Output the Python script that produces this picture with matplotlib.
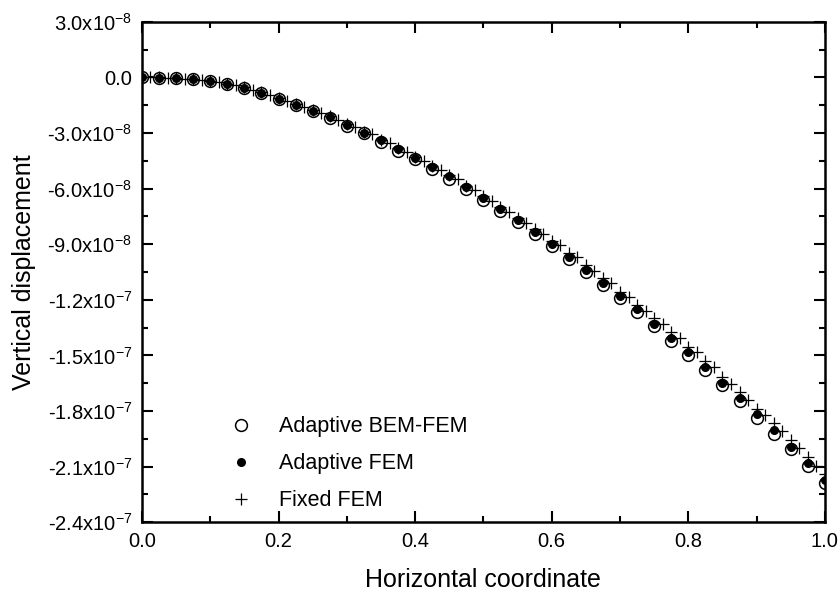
import matplotlib.pyplot as plt
import numpy as np
from matplotlib.ticker import FixedLocator, MultipleLocator

plt.rcParams['font.family'] = ['Liberation Sans', 'DejaVu Sans']
plt.rcParams['mathtext.fontset'] = 'custom'
plt.rcParams['mathtext.rm'] = 'Liberation Sans'
plt.rcParams['axes.unicode_minus'] = False

# adaptive points, step 0.025 (values in 1e-8)
x_adapt = [0.0, 0.025, 0.05, 0.075, 0.1, 0.125, 0.15, 0.175, 0.2, 0.225,
           0.25, 0.275, 0.3, 0.325, 0.35, 0.375, 0.4, 0.425, 0.45, 0.475,
           0.5, 0.525, 0.55, 0.575, 0.6, 0.625, 0.65, 0.675, 0.7, 0.725,
           0.75, 0.775, 0.8, 0.825, 0.85, 0.875, 0.9, 0.925, 0.95, 0.975, 1.0]

bem_fem = [0.0, -0.02, -0.05, -0.10, -0.20, -0.36, -0.58, -0.86, -1.16, -1.50,
           -1.82, -2.18, -2.60, -3.02, -3.46, -3.95, -4.42, -4.94, -5.46, -6.01,
           -6.60, -7.19, -7.79, -8.43, -9.08, -9.78, -10.48, -11.20, -11.92, -12.66,
           -13.44, -14.20, -14.98, -15.80, -16.62, -17.48, -18.38, -19.22, -20.07, -20.98, -21.90]

adapt_fem = [0.0, -0.02, -0.05, -0.10, -0.20, -0.35, -0.57, -0.85, -1.15, -1.48,
             -1.80, -2.15, -2.56, -2.98, -3.40, -3.87, -4.33, -4.84, -5.33, -5.93,
             -6.50, -7.10, -7.69, -8.32, -8.97, -9.67, -10.39, -11.08, -11.78, -12.51,
             -13.31, -14.08, -14.82, -15.65, -16.48, -17.32, -18.19, -19.03, -19.93, -20.80, -21.70]

# fixed FEM, step 0.0125
x_fixed = [0.0, 0.0125, 0.025, 0.0375, 0.05, 0.0625, 0.075, 0.0875, 0.1, 0.1125,
           0.125, 0.1375, 0.15, 0.1625, 0.175, 0.1875, 0.2, 0.2125, 0.225, 0.2375,
           0.25, 0.2625, 0.275, 0.2875, 0.3, 0.3125, 0.325, 0.3375, 0.35, 0.3625,
           0.375, 0.3875, 0.4, 0.4125, 0.425, 0.4375, 0.45, 0.4625, 0.475, 0.4875,
           0.5, 0.5125, 0.525, 0.5375, 0.55, 0.5625, 0.575, 0.5875, 0.6, 0.6125,
           0.625, 0.6375, 0.65, 0.6625, 0.675, 0.6875, 0.7, 0.7125, 0.725, 0.7375,
           0.75, 0.7625, 0.775, 0.7875, 0.8, 0.8125, 0.825, 0.8375, 0.85, 0.8625,
           0.875, 0.8875, 0.9, 0.9125, 0.925, 0.9375, 0.95, 0.9625, 0.975, 0.9875, 1.0]

fixed_fem = [0.0, 0.0, 0.0, -0.02, -0.04, -0.06, -0.09, -0.13, -0.18, -0.25,
             -0.33, -0.43, -0.54, -0.67, -0.81, -0.95, -1.10, -1.26, -1.43, -1.59,
             -1.75, -1.92, -2.10, -2.30, -2.50, -2.65, -2.93, -3.05, -3.35, -3.52,
             -3.82, -4.00, -4.27, -4.49, -4.76, -4.99, -5.25, -5.49, -5.83, -6.07,
             -6.40, -6.65, -6.98, -7.24, -7.56, -7.84, -8.18, -8.45, -8.80, -9.04,
             -9.46, -9.70, -10.12, -10.43, -10.84, -11.11, -11.56, -11.83, -12.28, -12.61,
             -13.00, -13.32, -13.72, -14.08, -14.53, -14.84, -15.31, -15.65, -16.17, -16.55,
             -17.00, -17.41, -17.88, -18.22, -18.67, -19.09, -19.57, -19.99, -20.47, -20.98, -21.40]

xtick_vals = [0.0, 0.2, 0.4, 0.6, 0.8, 1.0]
xtick_labels = ['0.0', '0.2', '0.4', '0.6', '0.8', '1.0']
ytick_vals = [3e-8, 0.0, -3e-8, -6e-8, -9e-8, -1.2e-7, -1.5e-7, -1.8e-7, -2.1e-7, -2.4e-7]
ytick_labels = [r'3.0x10$^{-8}$', '0.0', r'-3.0x10$^{-8}$', r'-6.0x10$^{-8}$',
                r'-9.0x10$^{-8}$', r'-1.2x10$^{-7}$', r'-1.5x10$^{-7}$',
                r'-1.8x10$^{-7}$', r'-2.1x10$^{-7}$', r'-2.4x10$^{-7}$']

fig = plt.figure(figsize=(8.4, 5.92), dpi=100)
ax = fig.add_axes([0.169, 0.118, 0.813, 0.845])

s = 1e-8
ax.plot(x_adapt, np.array(bem_fem) * s, 'o', mfc='white', mec='black', mew=1.1, ms=8.5,
        ls='none', label='Adaptive BEM-FEM', zorder=2)
ax.plot(x_adapt, np.array(adapt_fem) * s, 'o', color='black', ms=5.5,
        ls='none', label='Adaptive FEM', zorder=3)
ax.plot(x_fixed, np.array(fixed_fem) * s, '+', color='black', ms=9, mew=0.9,
        ls='none', label='Fixed FEM', zorder=4)

ax.set_xlim(0, 1.0)
ax.set_ylim(-2.4e-7, 3e-8)
ax.xaxis.set_major_locator(FixedLocator(xtick_vals))
ax.set_xticklabels(xtick_labels)
ax.xaxis.set_minor_locator(MultipleLocator(0.1))
ax.yaxis.set_major_locator(FixedLocator(ytick_vals))
ax.set_yticklabels(ytick_labels)
ax.yaxis.set_minor_locator(MultipleLocator(1.5e-8))

ax.tick_params(which='both', direction='in', top=True, right=True, width=1.5, labelsize=14.5)
ax.tick_params(which='major', length=8, pad=7)
ax.tick_params(which='minor', length=4.5)
for sp in ax.spines.values():
    sp.set_linewidth(1.8)

ax.set_xlabel('Horizontal coordinate', fontsize=18, labelpad=12)
ax.set_ylabel('Vertical displacement', fontsize=18, labelpad=8)

ax.legend(loc='upper left', bbox_to_anchor=(0.114, 0.212), frameon=False, fontsize=15.5,
          handletextpad=0.77, handlelength=2.0, labelspacing=0.75, borderaxespad=0,
          borderpad=0)

plt.savefig('out.png', dpi=100)
